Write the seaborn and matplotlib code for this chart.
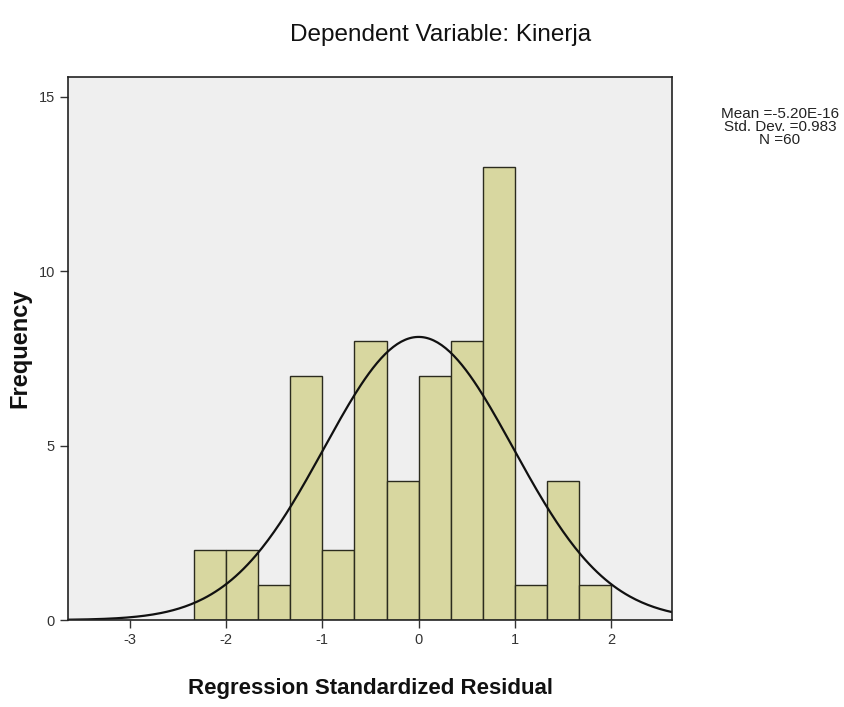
import numpy as np
import pandas as pd
import seaborn as sns
import matplotlib.pyplot as plt

# histogram of standardized residuals
bin_edges = [-7/3, -2, -5/3, -4/3, -1, -2/3, -1/3, 0, 1/3, 2/3, 1, 4/3, 5/3, 2]
counts = [2, 2, 1, 7, 2, 8, 4, 7, 8, 13, 1, 4, 1]
mean_val = -5.20e-16
sd_val = 0.983
n_val = 60

sns.set_style("white")
plt.rcParams['font.family'] = ['Liberation Sans', 'DejaVu Sans']
plt.rcParams['axes.unicode_minus'] = False

centers = [(bin_edges[i] + bin_edges[i + 1]) / 2 for i in range(len(counts))]
df = pd.DataFrame({'resid': centers, 'n': counts})

fig = plt.figure(figsize=(8.44, 7.07), dpi=100)
ax = fig.add_axes([68/844, 1 - 620/707, (672 - 68)/844, (620 - 77)/707])
ax.set_facecolor('#efefef')

sns.histplot(data=df, x='resid', weights='n', bins=bin_edges, ax=ax,
             color='#d8d7a0', alpha=1, edgecolor='#2b2b1e', linewidth=1.0)

# normal curve scaled to counts
bw = 1/3
xs = np.linspace(-3.64, 2.63, 300)
ys = n_val * bw * np.exp(-0.5 * ((xs - mean_val) / sd_val) ** 2) / (sd_val * np.sqrt(2 * np.pi))
sns.lineplot(x=xs, y=ys, ax=ax, color='#111111', linewidth=1.6)

ax.set_xlim(-3.64, 2.63)
ax.set_ylim(0, 15.57)
ax.set_xticks([-3, -2, -1, 0, 1, 2])
ax.set_yticks([0, 5, 10, 15])
ax.tick_params(direction='out', length=6, width=1, color='#333333',
               labelsize=10.5, labelcolor='#333333', bottom=True, left=True)
for s in ax.spines.values():
    s.set_color('#222222')
    s.set_linewidth(1.2)

ax.set_xlabel('Regression Standardized Residual', fontsize=16, fontweight='bold',
              labelpad=22, color='#111111')
ax.set_ylabel('Frequency', fontsize=17, fontweight='bold', labelpad=5, color='#111111')

fig.text(441/844, 1 - 35/707, 'Dependent Variable: Kinerja', ha='center', va='center',
         fontsize=17.5, color='#111111')

fig.text(780/844, 1 - 127/707, f'Mean =-5.20E-16\nStd. Dev. ={sd_val}\nN ={n_val}',
         ha='center', va='center', fontsize=11, linespacing=0.95, color='#222222',
         family=['Liberation Sans Narrow', 'Liberation Sans', 'DejaVu Sans'])

fig.savefig('out.png', dpi=100)
